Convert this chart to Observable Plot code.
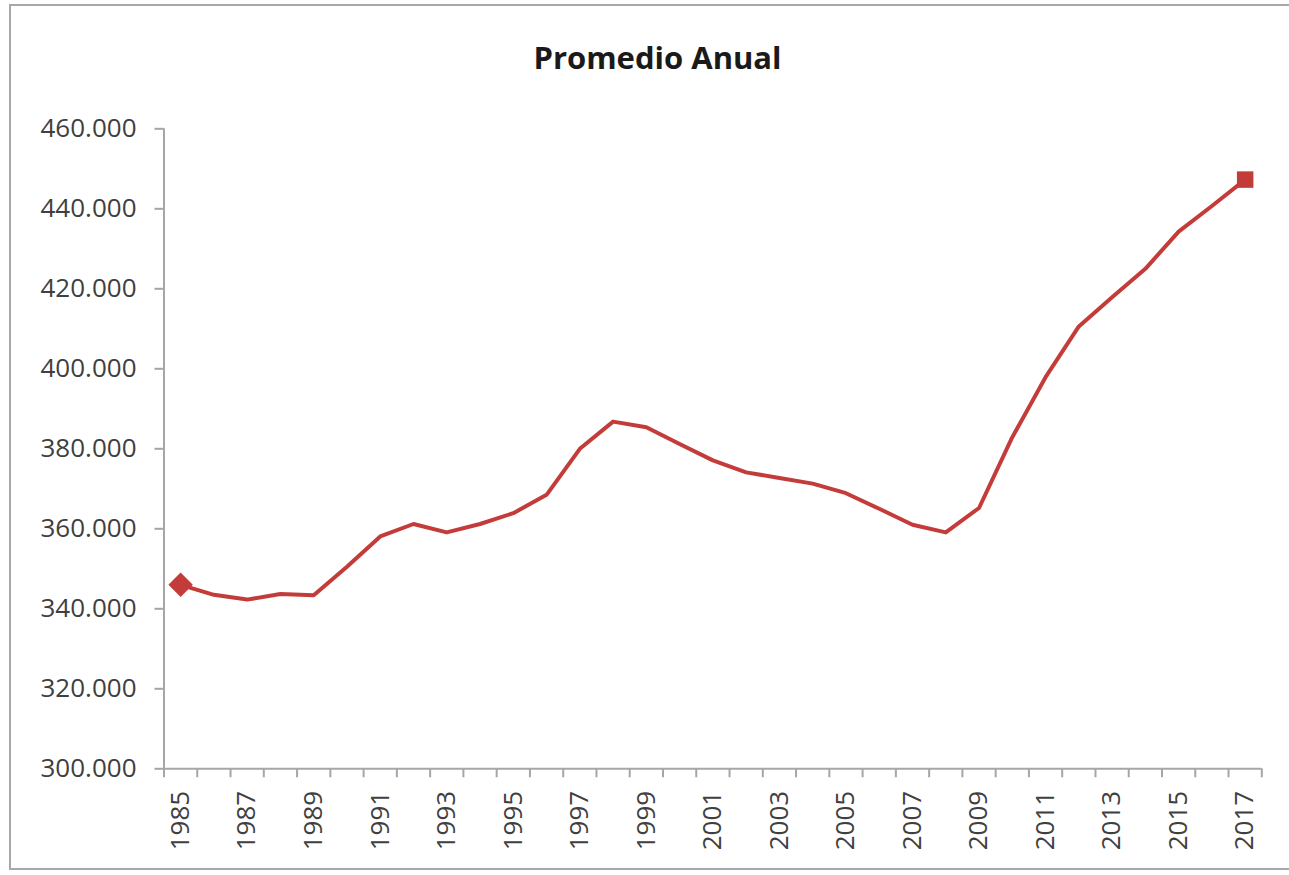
<!DOCTYPE html>
<html>
<head>
<meta charset="utf-8">
<script src="https://cdn.jsdelivr.net/npm/d3@7"></script>
<script src="https://cdn.jsdelivr.net/npm/@observablehq/plot@0.6"></script>
<style>
  html, body { margin: 0; padding: 0; background: #fff; overflow: hidden; width: 1289px; height: 875px; }
  #wrap { position: relative; width: 1289px; height: 875px; overflow: hidden; }
  #frameTop { position: absolute; left: 9px; top: 4px; width: 1290px; height: 2px; background: #a8a8a8; }
  #frameLeft { position: absolute; left: 9px; top: 4px; width: 2px; height: 866px; background: #a8a8a8; }
  #frameBottom { position: absolute; left: 9px; top: 868px; width: 1290px; height: 2px; background: #a8a8a8; }
  #title { position: relative; height: 100px; width: 1289px; box-sizing: border-box; padding-left: 26px; text-align: center; font-family: "Open Sans", sans-serif; font-weight: 700; font-size: 31px; line-height: 1; padding-top: 42px; color: #1a1a1a; }
  #chart { position: relative; }
</style>
</head>
<body>
<div id="wrap">
  <div id="frameTop"></div>
  <div id="frameLeft"></div>
  <div id="frameBottom"></div>
  <div id="title">Promedio Anual</div>
  <div id="chart"></div>
</div>
<script>
const titleText = "Promedio Anual";
const years = [1985,1986,1987,1988,1989,1990,1991,1992,1993,1994,1995,1996,1997,1998,1999,2000,2001,2002,2003,2004,2005,2006,2007,2008,2009,2010,2011,2012,2013,2014,2015,2016,2017];
const values = [346000,343500,342300,343700,343400,350500,358100,361200,359100,361200,363900,368500,380000,386800,385400,381200,377100,374100,372700,371300,368900,365000,361000,359100,365200,382900,397900,410600,417900,425000,434300,440700,447300];
const yTicks = [300000,320000,340000,360000,380000,400000,420000,440000,460000];
const xLabelYears = [1985,1987,1989,1991,1993,1995,1997,1999,2001,2003,2005,2007,2009,2011,2013,2015,2017];

const data = years.map((y, i) => ({year: y, value: values[i]}));
const firstPt = [data[0]];
const lastPt = [data[data.length - 1]];
const boundaries = [...years.map(y => y - 0.5), years[years.length - 1] + 0.5];

const red = "#c43c3a";
const grey = "#a6a6a6";
const fmt = d => d3.format(",")(d).replace(/,/g, ".");

const chart = Plot.plot({
  width: 1289,
  height: 775,
  marginTop: 28.3,
  marginBottom: 106.7,
  marginLeft: 163.5,
  marginRight: 27.7,
  style: {fontFamily: "'Open Sans', sans-serif", fontSize: "26px", color: "#404040", background: "transparent", overflow: "visible"},
  x: {domain: [1984.5, 2017.5]},
  y: {domain: [300000, 460000]},
  marks: [
    Plot.axisY({ticks: yTicks, tickSize: 9, tickPadding: 18.5, tickFormat: fmt, stroke: grey, strokeWidth: 2, label: null, fill: "#404040", fontSize: 26}),
    Plot.axisX({ticks: boundaries, tickSize: 9, tickFormat: () => "", stroke: grey, strokeWidth: 2, label: null}),
    Plot.axisX({ticks: xLabelYears, tickSize: 0, tickPadding: 22, tickRotate: -90, tickFormat: d => String(d), label: null, fill: "#404040", fontSize: 26}),
    Plot.ruleX([1984.5], {stroke: grey, strokeWidth: 2}),
    Plot.ruleY([300000], {stroke: grey, strokeWidth: 2}),
    Plot.line(data, {x: "year", y: "value", stroke: red, strokeWidth: 4, strokeLinejoin: "round", strokeLinecap: "round"}),
    Plot.dot(firstPt, {x: "year", y: "value", symbol: "diamond2", r: 11, fill: red, stroke: "none"}),
    Plot.dot(lastPt, {x: "year", y: "value", symbol: "square", r: 9.3, fill: red, stroke: "none"})
  ]
});
document.getElementById("chart").appendChild(chart);
</script>
</body>
</html>
